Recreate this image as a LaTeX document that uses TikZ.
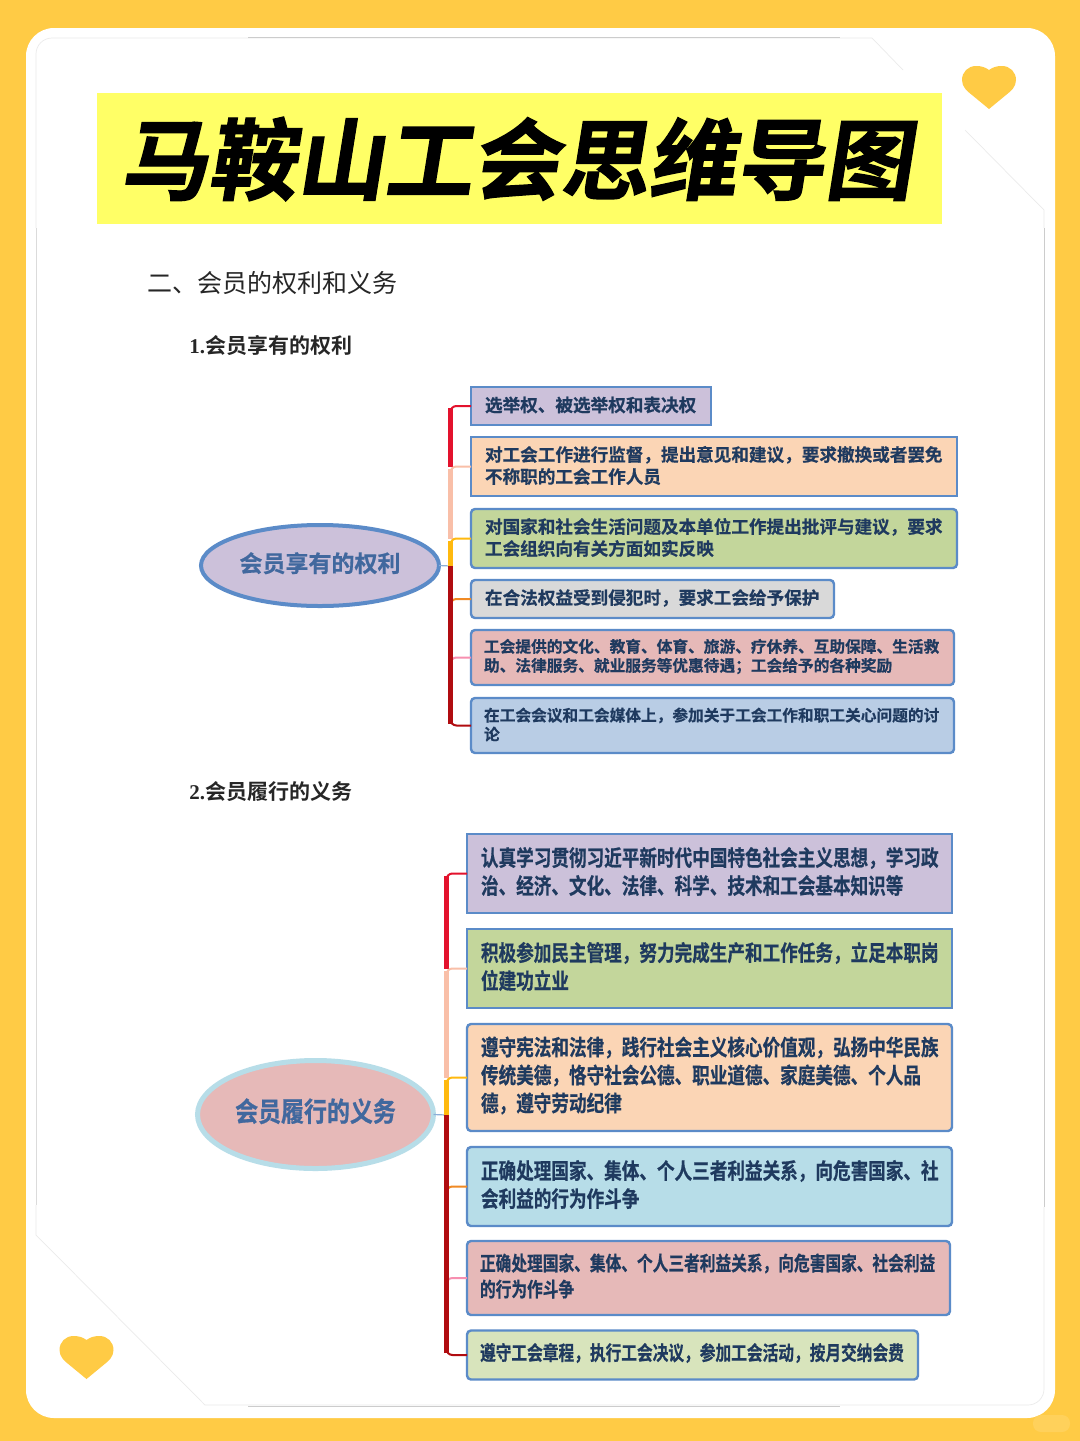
\documentclass[tikz,border=0pt]{standalone}
\usepackage{fontspec}
\usetikzlibrary{shapes.geometric}
\setmainfont{Noto Sans CJK SC}
\newfontfamily\plainfont[FakeBold=0.6]{Noto Sans CJK SC Bold}
\newfontfamily\subfont{Noto Sans CJK SC Bold}
\newfontfamily\tallfont[FakeStretch=0.8,FakeBold=0.6]{Noto Sans CJK SC Bold}
\newfontfamily\lowfont[FakeStretch=0.785,FakeBold=0.6]{Noto Sans CJK SC Bold}
\newfontfamily\rootfont[FakeStretch=0.85,FakeBold=0.8]{Noto Sans CJK SC Bold}
\newfontfamily\titlefont[FakeSlant=0.16,FakeBold=1.5]{Noto Sans CJK SC Bold}
\newfontfamily\latinbold{Liberation Serif Bold}
\newcommand\liftone{\endgraf\kern 1pt\hrule height 0pt width 0pt}
\newcommand\lifttwo{\endgraf\kern 2pt\hrule height 0pt width 0pt}
\definecolor{backyellow}{HTML}{FFCB45}
\definecolor{titleyellow}{HTML}{FFFF66}
\definecolor{edgeblue}{HTML}{5B8BC8}
\definecolor{inkblue}{HTML}{1F3A5F}
\definecolor{rootblue}{HTML}{41689E}
\definecolor{fillpurple}{HTML}{CCC1DA}
\definecolor{fillpeach}{HTML}{FBD5B5}
\definecolor{fillgreen}{HTML}{C3D69B}
\definecolor{fillgray}{HTML}{D9D9D9}
\definecolor{fillrose}{HTML}{E6B9B8}
\definecolor{fillblue}{HTML}{B9CDE5}
\definecolor{fillaqua}{HTML}{B7DDE8}
\definecolor{filllime}{HTML}{D8E4BC}
\definecolor{limbred}{HTML}{E3122D}
\definecolor{limbpeach}{HTML}{F9BFA8}
\definecolor{limbgold}{HTML}{FFB90F}
\definecolor{limbdark}{HTML}{B00C10}
\definecolor{limborange}{HTML}{F08A24}
\definecolor{limbpink}{HTML}{F78FB0}

\begin{document}
\begin{tikzpicture}[
  x=0.5pt,y=-0.5pt,
  mbox/.style 2 args={draw=edgeblue,line width=1.2pt,anchor=north west,align=left,
    inner xsep=7pt,inner ysep=0pt,outer sep=0pt,
    text width={0.5*#1pt-14pt},minimum height={0.5*#2pt},text=inkblue},
  rbox/.style 2 args={mbox={#1}{#2},rounded corners=2pt},
  small/.style={font=\fontsize{7.85}{9.5}\plainfont,inner xsep=6.5pt,execute at end node=\liftone},
  mid/.style={font=\fontsize{8.8}{11}\plainfont,execute at end node=\liftone},
  tall/.style={font=\fontsize{11}{14}\tallfont,execute at end node=\lifttwo},
  low/.style={font=\fontsize{10}{13}\lowfont,inner xsep=6.5pt,execute at end node=\lifttwo},
  rootnode/.style={ellipse,inner sep=0pt,outer sep=0pt,text=rootblue},
  limb/.style={line width=2.2pt,shorten <=1pt,line cap=butt},
  twig/.style={line width=1pt,rounded corners=3pt},
  pagefaint/.style={draw=black!8,line width=0.35pt}
]
  % page
  \fill[backyellow] (0,0) rectangle (1080,1441);
  \fill[white,rounded corners=14pt] (26,28) rectangle (1055,1418);
  \fill[white!12!backyellow,rounded corners=4pt] (1033,1415) rectangle (1070,1432);

  % faint outline of the sheet
  \draw[pagefaint,rounded corners=8pt] (36,228) -- (36,38) -- (872,38);
  \draw[pagefaint] (872,38) -- (903,70);
  \draw[pagefaint] (965,130) -- (1044,210) -- (1044,228);
  \draw[pagefaint] (36,1205) -- (36,1235) -- (205,1405);
  \draw[pagefaint,rounded corners=8pt] (205,1405) -- (1044,1405) -- (1044,1207);
  \draw[draw=black!20,line width=0.5pt] (248,37) -- (840,37);
  \draw[draw=black!20,line width=0.5pt] (248,1406) -- (840,1406);
  \draw[draw=black!14,line width=0.5pt] (36,228) -- (36,1205);
  \draw[draw=black!20,line width=0.5pt] (1044,228) -- (1044,1207);

  % hearts
  \foreach \hx/\hy in {989/66,86.5/1336}{
    \fill[backyellow] (\hx,\hy+4) .. controls (\hx-4,\hy+1) and (\hx-8,\hy) .. (\hx-13,\hy)
      .. controls (\hx-21,\hy) and (\hx-27,\hy+6) .. (\hx-27,\hy+14)
      .. controls (\hx-27,\hy+21) and (\hx-22,\hy+25) .. (\hx-17,\hy+29) -- (\hx,\hy+43)
      -- (\hx+17,\hy+29) .. controls (\hx+22,\hy+25) and (\hx+27,\hy+21) .. (\hx+27,\hy+14)
      .. controls (\hx+27,\hy+6) and (\hx+21,\hy) .. (\hx+13,\hy)
      .. controls (\hx+8,\hy) and (\hx+4,\hy+1) .. (\hx,\hy+4) -- cycle;
  }

  % title and headings
  \fill[titleyellow] (97,93) rectangle (942,224);
  \node[font=\fontsize{44}{44}\titlefont,text=black,inner sep=0pt] (title) at (516,159) {马鞍山工会思维导图};
  \node[anchor=west,font=\fontsize{12.5}{12.5}\selectfont,text=black!85,inner sep=0pt] (sec) at (147,283) {二、会员的权利和义务};
  \node[anchor=west,font=\fontsize{10.5}{10.5}\subfont,text=black!85,inner sep=0pt] (suba) at (189,346) {{\latinbold 1.}会员享有的权利};
  \node[anchor=west,font=\fontsize{10.5}{10.5}\subfont,text=black!85,inner sep=0pt] (subb) at (189,792) {{\latinbold 2.}会员履行的义务};

  % rights
  \node[rootnode,draw=edgeblue,line width=2pt,fill=fillpurple,minimum width=119pt,minimum height=40.5pt,
    font=\fontsize{11.5}{11.5}\plainfont,text depth=3.4pt] (ra) at (320,565.5) {会员享有的权利};
  \node[mbox={240}{38},mid,fill=fillpurple] (a1) at (471,387) {选举权、被选举权和表决权};
  \node[mbox={486}{59},mid,fill=fillpeach] (a2) at (471,437) {对工会工作进行监督，提出意见和建议，要求撤换或者罢免\\不称职的工会工作人员};
  \node[rbox={486}{59},mid,fill=fillgreen] (a3) at (471,509) {对国家和社会生活问题及本单位工作提出批评与建议，要求\\工会组织向有关方面如实反映};
  \node[rbox={363}{38},mid,fill=fillgray] (a4) at (471,580) {在合法权益受到侵犯时，要求工会给予保护};
  \node[rbox={485}{55},small,fill=fillrose] (a5) at (471,630) {工会提供的文化、教育、体育、旅游、疗休养、互助保障、生活救\\助、法律服务、就业服务等优惠待遇；工会给予的各种奖励};
  \node[rbox={485}{55},small,fill=fillblue] (a6) at (471,698) {在工会会议和工会媒体上，参加关于工会工作和职工关心问题的讨\\论};

  % duties
  \node[rootnode,draw=fillaqua,line width=2.5pt,fill=fillrose,minimum width=118pt,minimum height=54pt,
    font=\fontsize{13.5}{13.5}\rootfont,text depth=4.6pt] (rb) at (315.5,1114.5) {会员履行的义务};
  \node[mbox={485}{79},tall,fill=fillpurple] (b1) at (467,834) {认真学习贯彻习近平新时代中国特色社会主义思想，学习政\\治、经济、文化、法律、科学、技术和工会基本知识等};
  \node[mbox={485}{79},tall,fill=fillgreen] (b2) at (467,929) {积极参加民主管理，努力完成生产和工作任务，立足本职岗\\位建功立业};
  \node[rbox={485}{107},tall,fill=fillpeach] (b3) at (467,1024) {遵守宪法和法律，践行社会主义核心价值观，弘扬中华民族\\传统美德，恪守社会公德、职业道德、家庭美德、个人品\\德，遵守劳动纪律};
  \node[rbox={485}{79},tall,fill=fillaqua] (b4) at (467,1147) {正确处理国家、集体、个人三者利益关系，向危害国家、社\\会利益的行为作斗争};
  \node[rbox={485}{74},low,fill=fillrose] (b5) at (467,1241) {正确处理国家、集体、个人三者利益关系，向危害国家、社会利益\\的行为作斗争};
  \node[rbox={453}{49},low,fill=filllime] (b6) at (467,1330.5) {遵守工会章程，执行工会决议，参加工会活动，按月交纳会费};

  % spine positions
  \coordinate (sa) at (450.5,566);
  \coordinate (sb) at (446.5,1115);

  % rights edges
  \draw[edgeblue!70,line width=0.6pt] (ra.east) -- (sa);
  \draw[twig,limborange] (a4.west) -| ([yshift=-4pt]a4.west -| sa);
  \draw[twig,limbpink] (a5.west) -| ([yshift=-4pt]a5.west -| sa);
  \draw[twig,limbred] (a1.west) -| (a2.west -| sa);
  \draw[limb,limbred] (a1.west -| sa) -- (a2.west -| sa);
  \draw[twig,limbpeach] (a2.west) -| (a3.west -| sa);
  \draw[limb,limbpeach] (a2.west -| sa) -- (a3.west -| sa);
  \draw[twig,limbgold] (a3.west) -| (sa);
  \draw[limb,limbgold] (a3.west -| sa) -- (sa);
  \draw[twig,limbdark] (a6.west) -| (sa);
  \draw[limb,limbdark] (a6.west -| sa) -- (sa);

  % duties edges
  \draw[edgeblue!70,line width=0.6pt] (rb.east) -- (sb);
  \draw[twig,limborange] (b4.west) -| ([yshift=-4pt]b4.west -| sb);
  \draw[twig,limbpink] (b5.west) -| ([yshift=-4pt]b5.west -| sb);
  \draw[twig,limbred] (b1.west) -| (b2.west -| sb);
  \draw[limb,limbred] (b1.west -| sb) -- (b2.west -| sb);
  \draw[twig,limbpeach] (b2.west) -| (b3.west -| sb);
  \draw[limb,limbpeach] (b2.west -| sb) -- (b3.west -| sb);
  \draw[twig,limbgold] (b3.west) -| (sb);
  \draw[limb,limbgold] (b3.west -| sb) -- (sb);
  \draw[twig,limbdark] (b6.west) -| (sb);
  \draw[limb,limbdark] (b6.west -| sb) -- (sb);
\end{tikzpicture}
\end{document}
